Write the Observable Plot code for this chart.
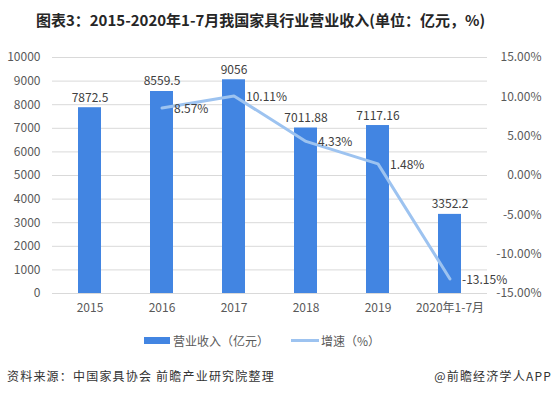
<!DOCTYPE html>
<html><head><meta charset="utf-8">
<script src="https://cdn.jsdelivr.net/npm/d3@7"></script>
<script src="https://cdn.jsdelivr.net/npm/@observablehq/plot@0.6"></script>
<style>
body{margin:0;background:#fff;font-family:"Noto Sans CJK SC","Noto Sans",sans-serif;}
#wrap{position:relative;width:551px;height:396px;overflow:hidden;background:#fff;}
#title{position:absolute;top:8px;left:0;width:521px;text-align:center;font-size:15px;font-weight:bold;color:#262626;line-height:24px;white-space:nowrap;}
#chart{position:absolute;top:40px;left:0;}
#legend{position:absolute;top:331px;left:144px;height:18px;display:flex;align-items:center;font-size:12px;color:#595959;white-space:nowrap;}
.foot{position:absolute;top:367px;font-size:12px;line-height:18px;color:#333;letter-spacing:1.2px;white-space:nowrap;}
</style></head>
<body>
<div id="wrap">
  <div id="title"></div>
  <div id="chart"></div>
  <div id="legend"></div>
  <div class="foot" id="src" style="left:7px"></div>
  <div class="foot" id="brand" style="right:-1px"></div>
</div>
<script>
const titleText = "图表3：2015-2020年1-7月我国家具行业营业收入(单位：亿元，%)";
const years = ["2015", "2016", "2017", "2018", "2019", "2020年1-7月"];
const revenue = [7872.5, 8559.5, 9056, 7011.88, 7117.16, 3352.2];
const growth = [null, 8.57, 10.11, 4.33, 1.48, -13.15];
const leftTicks = [0, 1000, 2000, 3000, 4000, 5000, 6000, 7000, 8000, 9000, 10000];
const rightTicks = [-15, -10, -5, 0, 5, 10, 15];
const seriesNames = ["营业收入（亿元）", "增速（%）"];
const sourceText = "资料来源：中国家具协会 前瞻产业研究院整理";
const brandText = "@前瞻经济学人APP";

const barColor = "#4285e2";
const lineColor = "#9dc3f0";

// map growth (%) onto the revenue axis range
const gMin = -15, gMax = 15, yMax = 10000;
const toY = g => (g - gMin) / (gMax - gMin) * yMax;
const fromY = v => Math.round(v / yMax * (gMax - gMin) + gMin);

const barData = years.map((y, i) => ({year: y, value: revenue[i]}));
const lineData = years.map((y, i) => ({year: y, g: growth[i]})).filter(d => d.g != null);

document.getElementById("title").textContent = titleText;
document.getElementById("src").textContent = sourceText;
document.getElementById("brand").textContent = brandText;
document.getElementById("legend").innerHTML =
  `<span style="display:inline-block;width:26px;height:7px;background:${barColor};margin-right:3px"></span>${seriesNames[0]}` +
  `<span style="display:inline-block;width:28px;height:3px;background:${lineColor};margin-left:22px;margin-right:2px"></span>${seriesNames[1]}`;

const chart = Plot.plot({
  width: 551,
  height: 280,
  marginTop: 17,
  marginBottom: 27,
  marginLeft: 52,
  marginRight: 64,
  style: {fontFamily: '"Noto Sans CJK SC","Noto Sans",sans-serif', fontSize: "12px", color: "#595959", background: "transparent"},
  x: {domain: years, paddingInner: 0.68, paddingOuter: 0.34, label: null},
  y: {domain: [0, yMax], label: null},
  marks: [
    Plot.gridY(leftTicks, {stroke: "#d9d9d9", strokeOpacity: 1}),
    Plot.barY(barData, {x: "year", y: "value", fill: barColor}),
    Plot.line(lineData, {x: "year", y: d => toY(d.g), stroke: lineColor, strokeWidth: 3, strokeLinejoin: "round", strokeLinecap: "round"}),
    Plot.text(barData, {x: "year", y: "value", text: d => String(d.value), dy: -6, lineAnchor: "bottom", fill: "#404040"}),
    Plot.text(lineData, {x: "year", y: d => toY(d.g), text: d => d.g.toFixed(2) + "%", textAnchor: "start", dx: 12, dy: 1, fill: "#404040"}),
    Plot.axisY(leftTicks, {anchor: "left", tickSize: 0, tickPadding: 12, tickFormat: d => String(d), label: null}),
    Plot.axisY(rightTicks.map(toY), {anchor: "right", tickSize: 0, tickPadding: 54, textAnchor: "end", tickFormat: d => fromY(d).toFixed(2) + "%", label: null}),
    Plot.axisX({tickSize: 0, tickPadding: 10, label: null})
  ]
});
document.getElementById("chart").appendChild(chart);
</script>
</body></html>
